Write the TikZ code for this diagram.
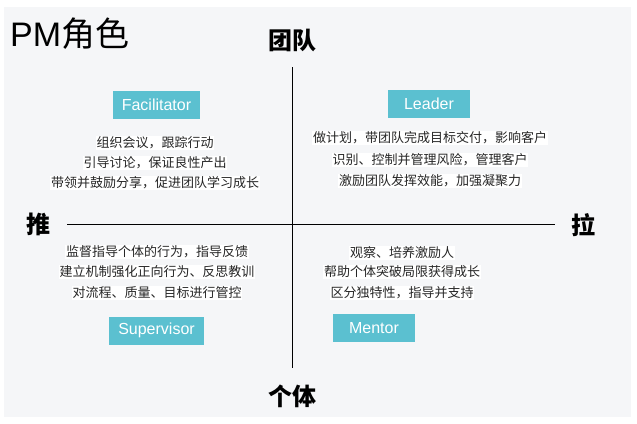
\documentclass[tikz,border=0pt]{standalone}
\usepackage{fontspec}
\setmainfont{Liberation Sans}
\newfontfamily\cjk{Noto Sans CJK SC}
\definecolor{panel}{RGB}{245,246,248}
\definecolor{teal}{RGB}{91,192,208}
\tikzset{
  role/.style={fill=teal, text=white, font=\fontsize{16}{18}\selectfont, minimum width=82pt, minimum height=28pt, inner xsep=9pt, inner ysep=0pt},
  desc/.style={fill=white, inner sep=0.8pt, font=\cjk\fontsize{13}{15}\selectfont, text=black!85},
  axislabel/.style={font=\cjk\bfseries\fontsize{24}{28}\selectfont, inner sep=0pt},
  axisline/.style={line width=1pt, black}
}
\begin{document}
\begin{tikzpicture}[x=1pt,y=-1pt]
\useasboundingbox (0,0) rectangle (637,423);
\fill[white] (0,0) rectangle (637,423);
\fill[panel] (4,7) rectangle (631,417);
% title
\node[anchor=base west, inner sep=0pt, font=\fontsize{34}{38}\selectfont] (title) at (10,46) {PM{\cjk 角色}};
% axis labels
\node[axislabel] (team) at (292,40) {团队};
\node[axislabel] (indiv) at (292,396) {个体};
\node[axislabel] (push) at (39,224) {推};
\node[axislabel] (pull) at (583,225) {拉};
% axes
\coordinate (vtop) at (292,67);
\coordinate (vbot) at (292,368);
\coordinate (hl) at (67,224);
\coordinate (hr) at (555,224);
\draw[axisline] (vtop) -- (vbot);
\draw[axisline] (hl) -- (hr);
% Facilitator
\node[role] (fac) at (156.5,104.5) {Facilitator};
\node[desc] (f1) at (155,143) {组织会议，跟踪行动};
\node[desc] (f2) at (155,163) {引导讨论，保证良性产出};
\node[desc] (f3) at (155,183) {带领并鼓励分享，促进团队学习成长};
% Leader
\node[role] (lead) at (429,103.5) {Leader};
\node[desc] (l1) at (430,138) {做计划，带团队完成目标交付，影响客户};
\node[desc] (l2) at (430,160) {识别、控制并管理风险，管理客户};
\node[desc] (l3) at (430,181) {激励团队发挥效能，加强凝聚力};
% Supervisor
\node[desc] (s1) at (157,252) {监督指导个体的行为，指导反馈};
\node[desc] (s2) at (157,272) {建立机制强化正向行为、反思教训};
\node[desc] (s3) at (157,293) {对流程、质量、目标进行管控};
\node[role] (sup) at (156.5,330.5) {Supervisor};
% Mentor
\node[desc] (m1) at (402,253) {观察、培养激励人};
\node[desc] (m2) at (402,272) {帮助个体突破局限获得成长};
\node[desc] (m3) at (402,293) {区分独特性，指导并支持};
\node[role] (men) at (374,328) {Mentor};
\end{tikzpicture}
\end{document}
